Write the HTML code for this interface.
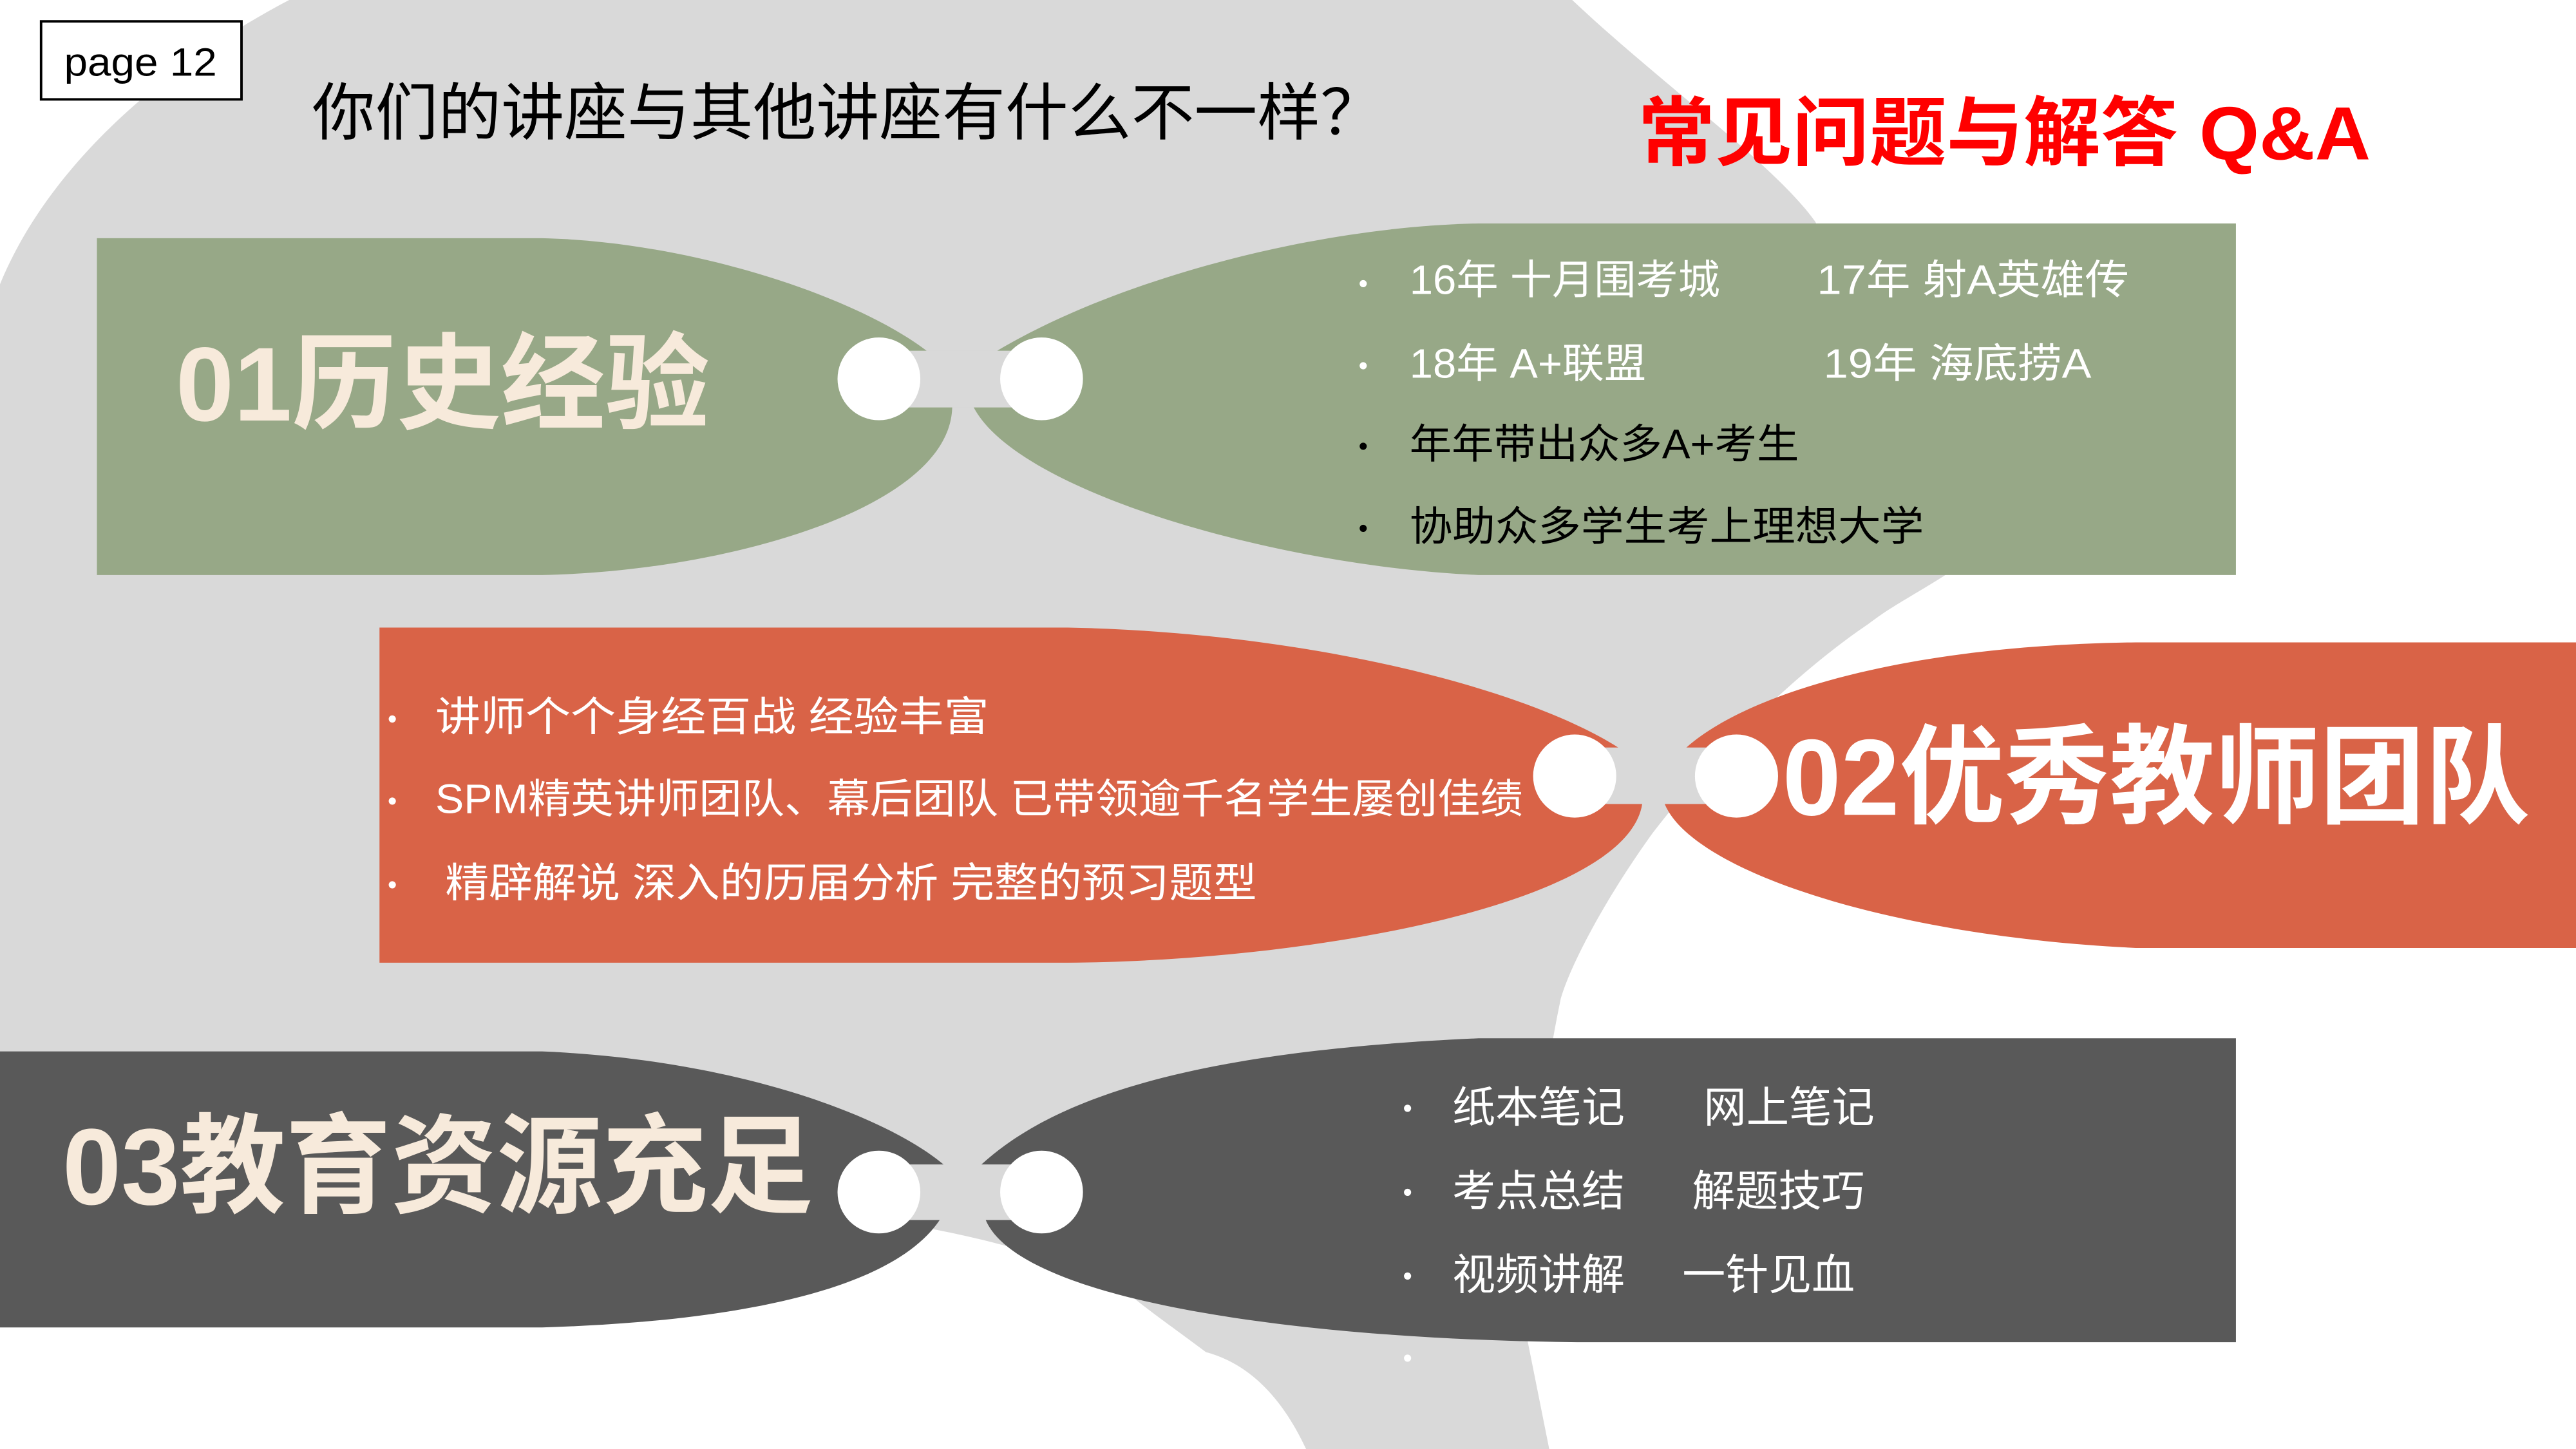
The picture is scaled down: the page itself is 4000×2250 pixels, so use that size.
<!DOCTYPE html>
<html><head><meta charset="utf-8"><style>
html,body{margin:0;padding:0;background:#fff;}
svg{display:block;}
text{font-family:"Liberation Sans","Noto Sans CJK SC",sans-serif;}
</style></head><body>
<svg width="4000" height="2250" viewBox="0 0 1568 882" preserveAspectRatio="none" xmlns="http://www.w3.org/2000/svg">
<rect width="1568" height="882" fill="#fff"/>
<path d="M176,0 L957,0 C1010,50 1080,100 1105,135 L1200,340 L1181,352 C1160,365 1150,370 1137,380 C1100,405 1050,450 1006,507 C975,550 955,590 950,608 C935,680 928,760 930,817 L943,882 L795,882 C780,850 760,830 734,823 C710,805 695,795 682,783 C500,700 200,740 0,760 L0,173 C30,100 100,40 176,0 Z" fill="#d9d9d9"/>

<!-- green -->
<path d="M59,145 L330,145 C420,147 520,180 564,213.5 L579.6,248 C578,310 440,348 330,350 L59,350 Z" fill="#97a887"/>
<path d="M607,213.5 C680,170 800,138 900,136 L1361,136 L1361,350 L900,350 C780,345 620,300 592.7,248 Z" fill="#97a887"/>
<rect x="545" y="213.5" width="80" height="34.5" fill="#d9d9d9"/>
<ellipse cx="535" cy="230.6" rx="25.2" ry="25.2" fill="#fff"/>
<ellipse cx="634" cy="230.6" rx="25.2" ry="25.2" fill="#fff"/>

<!-- red -->
<path d="M231,382 L650,382 C800,385 930,420 985,455 L999.6,489.4 C990,550 800,585 650,586 L231,586 Z" fill="#d96347"/>
<path d="M1026.5,455 C1060,425 1150,393 1300,391 L1568,391 L1568,577 L1300,577 C1150,570 1030,530 1013.3,489.4 Z" fill="#d96347"/>
<rect x="970" y="455" width="75" height="34.4" fill="#d9d9d9"/>
<ellipse cx="958.5" cy="472.4" rx="25.3" ry="25.3" fill="#fff"/>
<ellipse cx="1057" cy="472.4" rx="25.3" ry="25.3" fill="#fff"/>

<!-- dark -->
<path d="M0,640 L330,640 C450,645 540,680 574.3,708.8 L572,742.6 C540,790 430,805 330,808 L0,808 Z" fill="#595959"/>
<path d="M597.4,708.8 C640,670 720,640 900,632 L1361,632 L1361,817 L960,817 C780,815 620,790 600,742.6 Z" fill="#595959"/>
<rect x="545" y="708.8" width="80" height="33.8" fill="#d9d9d9"/>
<ellipse cx="535" cy="725.6" rx="25.2" ry="25.2" fill="#fff"/>
<ellipse cx="634" cy="725.6" rx="25.2" ry="25.2" fill="#fff"/>

<!-- header -->
<rect x="25" y="13" width="122" height="47.5" fill="#fff" stroke="#000" stroke-width="1.5"/>
<text x="39" y="46" font-size="24" textLength="93" lengthAdjust="spacingAndGlyphs">page 12</text>
<text x="190" y="82" font-size="38" textLength="652" lengthAdjust="spacingAndGlyphs">你们的讲座与其他讲座有什么不一样？</text>
<text x="997" y="97" font-size="46" font-weight="bold" fill="#ff0000" textLength="446" lengthAdjust="spacingAndGlyphs">常见问题与解答 Q&amp;A</text>

<!-- headings -->
<text x="107" y="256" font-size="64" font-weight="bold" fill="#f7eadb" textLength="325" lengthAdjust="spacingAndGlyphs">01历史经验</text>
<text x="1085" y="496" font-size="66" font-weight="bold" fill="#fff" textLength="455" lengthAdjust="spacingAndGlyphs">02优秀教师团队</text>
<text x="38" y="733" font-size="66" font-weight="bold" fill="#f7eadb" textLength="457" lengthAdjust="spacingAndGlyphs">03教育资源充足</text>

<!-- green bullets -->
<g font-size="25">
<text x="827" y="178" fill="#fff" font-size="16">•</text>
<text x="858" y="179" fill="#fff" textLength="189" lengthAdjust="spacingAndGlyphs">16年 十月围考城</text>
<text x="1106" y="179" fill="#fff" textLength="190" lengthAdjust="spacingAndGlyphs">17年  射A英雄传</text>
<text x="827" y="228" fill="#fff" font-size="16">•</text>
<text x="858" y="230" fill="#fff" textLength="144" lengthAdjust="spacingAndGlyphs">18年  A+联盟</text>
<text x="1110" y="230" fill="#fff" textLength="163" lengthAdjust="spacingAndGlyphs">19年  海底捞A</text>
<text x="827" y="277" fill="#000" font-size="16">•</text>
<text x="858" y="279" fill="#000" textLength="237" lengthAdjust="spacingAndGlyphs">年年带出众多A+考生</text>
<text x="827" y="327" fill="#000" font-size="16">•</text>
<text x="858" y="329" fill="#000" textLength="313" lengthAdjust="spacingAndGlyphs">协助众多学生考上理想大学</text>
</g>

<!-- red bullets -->
<g font-size="25" fill="#fff">
<text x="236" y="443" font-size="16">•</text>
<text x="265" y="445" textLength="337" lengthAdjust="spacingAndGlyphs">讲师个个身经百战   经验丰富</text>
<text x="236" y="493" font-size="16">•</text>
<text x="265" y="495" textLength="662" lengthAdjust="spacingAndGlyphs">SPM精英讲师团队、幕后团队  已带领逾千名学生屡创佳绩</text>
<text x="236" y="544" font-size="16">•</text>
<text x="271" y="546" textLength="494" lengthAdjust="spacingAndGlyphs">精辟解说  深入的历届分析  完整的预习题型</text>
</g>

<!-- dark bullets -->
<g font-size="26" fill="#fff">
<text x="854" y="680" font-size="16">•</text>
<text x="884" y="683" textLength="105" lengthAdjust="spacingAndGlyphs">纸本笔记</text>
<text x="1037" y="683" textLength="104" lengthAdjust="spacingAndGlyphs">网上笔记</text>
<text x="854" y="731" font-size="16">•</text>
<text x="884" y="734" textLength="105" lengthAdjust="spacingAndGlyphs">考点总结</text>
<text x="1030" y="734" textLength="105" lengthAdjust="spacingAndGlyphs">解题技巧</text>
<text x="854" y="782" font-size="16">•</text>
<text x="884" y="785" textLength="105" lengthAdjust="spacingAndGlyphs">视频讲解</text>
<text x="1024" y="785" textLength="105" lengthAdjust="spacingAndGlyphs">一针见血</text>
<text x="854" y="832" font-size="16">•</text>
</g>
</svg>
</body></html>
